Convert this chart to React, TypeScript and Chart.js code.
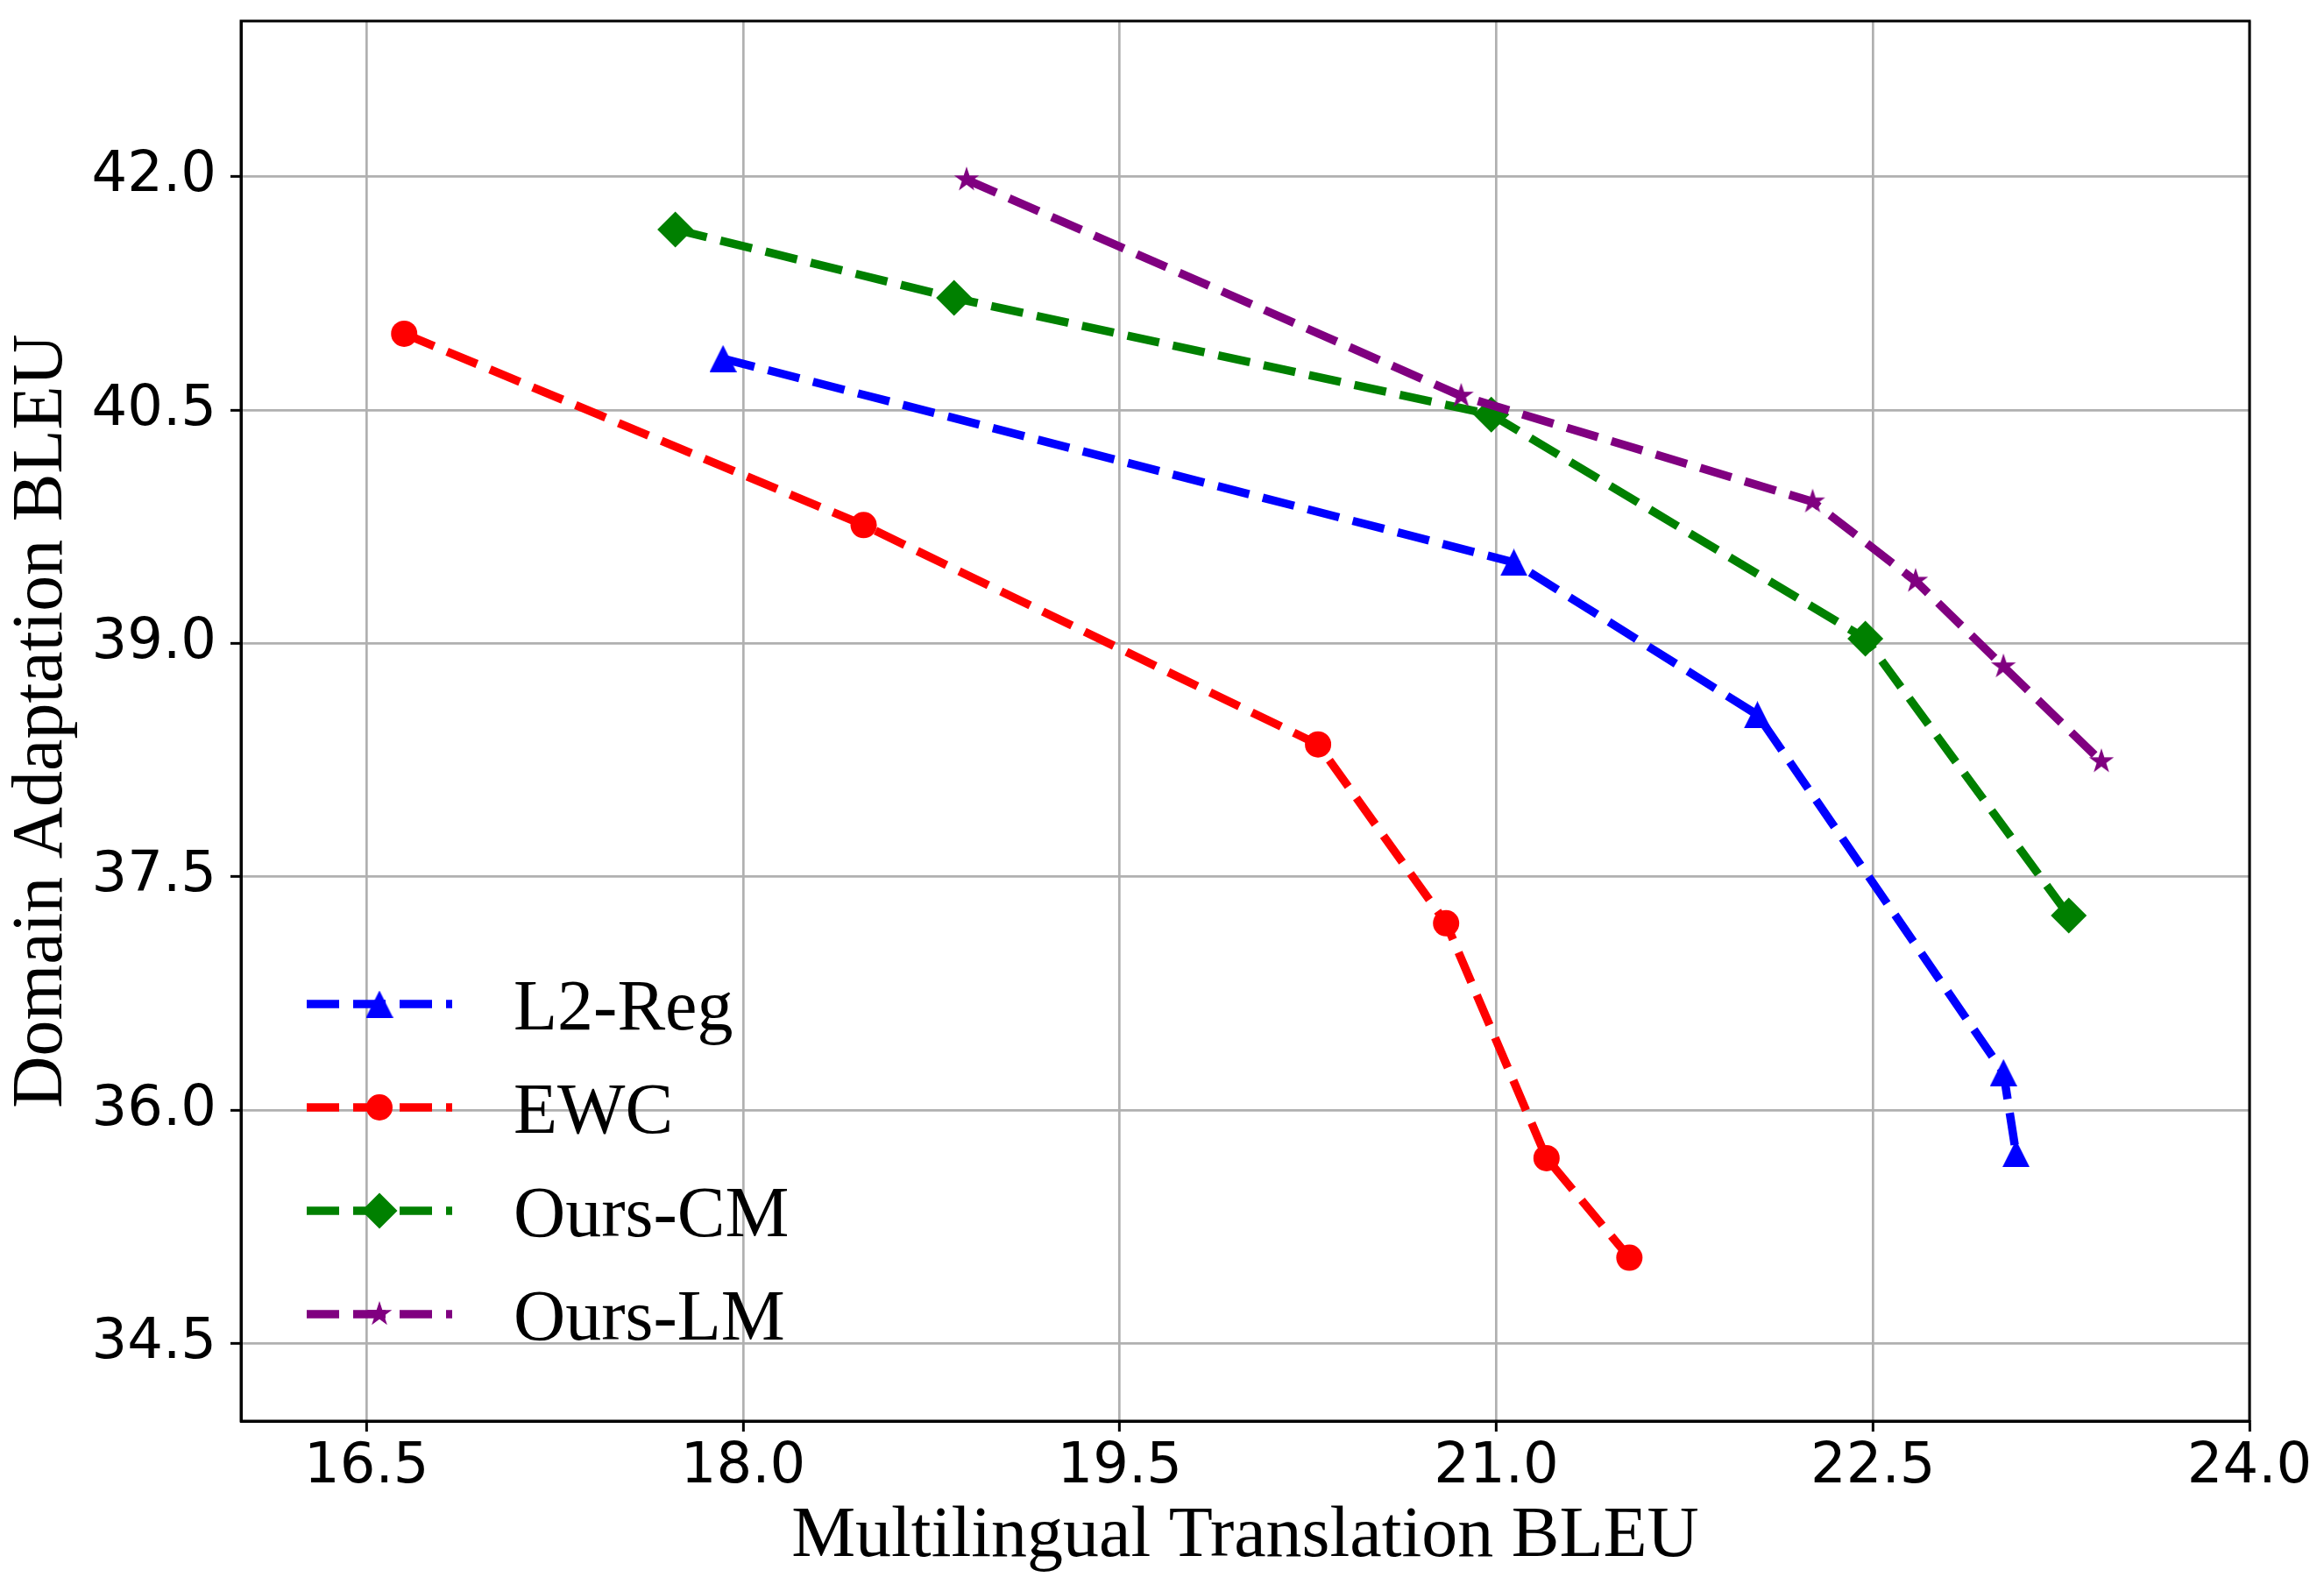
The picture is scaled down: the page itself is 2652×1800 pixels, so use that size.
import { useEffect, useRef } from "react"
import { Chart, registerables } from "chart.js"
import { drawPoint } from "chart.js/helpers"

Chart.register(...registerables)

// Tick values on both axes
const xTicks = [16.5, 18.0, 19.5, 21.0, 22.5, 24.0]
const yTicks = [34.5, 36.0, 37.5, 39.0, 40.5, 42.0]

// Series (x = multilingual BLEU, y = domain BLEU)
const seriesNames = ["L2-Reg", "EWC", "Ours-CM", "Ours-LM"]
const l2RegX = [17.92, 21.07, 22.04, 23.02, 23.07]
const l2RegY = [40.83, 39.52, 38.54, 36.24, 35.72]
const ewcX = [16.65, 18.48, 20.29, 20.8, 21.2, 21.53]
const ewcY = [40.99, 39.76, 38.35, 37.2, 35.69, 35.05]
const oursCmX = [17.73, 18.84, 20.98, 22.47, 23.28]
const oursCmY = [41.66, 41.22, 40.47, 39.03, 37.25]
const oursLmX = [18.89, 20.86, 22.26, 22.67, 23.02, 23.41]
const oursLmY = [41.98, 40.59, 39.91, 39.4, 38.85, 38.24]

const colors = ["#0000ff", "#ff0000", "#008000", "#800080"]
const DASH = [37, 16]
const LINE_W = 9.5
const SERIF = "'Liberation Serif', 'Times New Roman', serif"
const SANS = "'DejaVu Sans', sans-serif"

// matplotlib-like '^' marker (width == height)
function makeTriangle(color: string, size: number) {
  const c = document.createElement("canvas")
  c.width = size
  c.height = size
  const ctx = c.getContext("2d")!
  ctx.fillStyle = color
  ctx.beginPath()
  ctx.moveTo(size / 2, 0)
  ctx.lineTo(size, size)
  ctx.lineTo(0, size)
  ctx.closePath()
  ctx.fill()
  return c
}

// matplotlib-like '*' marker
function makeStar(color: string, r: number) {
  const size = Math.ceil(r * 2 + 2)
  const c = document.createElement("canvas")
  c.width = size
  c.height = size
  const ctx = c.getContext("2d")!
  ctx.fillStyle = color
  ctx.beginPath()
  for (let i = 0; i < 10; i++) {
    const a = -Math.PI / 2 + (i * Math.PI) / 5
    const rad = i % 2 === 0 ? r : r * 0.382
    const px = size / 2 + Math.cos(a) * rad
    const py = size / 2 + Math.sin(a) * rad
    if (i === 0) ctx.moveTo(px, py)
    else ctx.lineTo(px, py)
  }
  ctx.closePath()
  ctx.fill()
  return c
}

const toPoints = (xs: number[], ys: number[]) => xs.map((x, i) => ({ x, y: ys[i] }))

export default function App() {
  const chartRef = useRef<HTMLCanvasElement>(null)
  const chartInstance = useRef<Chart | null>(null)

  useEffect(() => {
    document.body.style.margin = "0"
    if (!chartRef.current) return
    if (chartInstance.current) chartInstance.current.destroy()

    const styles: any[] = [
      makeTriangle(colors[0], 31),
      "circle",
      "rectRot",
      makeStar(colors[3], 15),
    ]
    const radii = [16, 15, 20.5, 15]
    const xs = [l2RegX, ewcX, oursCmX, oursLmX]
    const ys = [l2RegY, ewcY, oursCmY, oursLmY]

    // box around the plot + legend inside lower-left
    const framePlugin = {
      id: "frameAndLegend",
      afterDraw(chart: any) {
        const { ctx, chartArea } = chart
        ctx.save()
        ctx.strokeStyle = "#000"
        ctx.lineWidth = 3
        ctx.strokeRect(chartArea.left, chartArea.top, chartArea.right - chartArea.left, chartArea.bottom - chartArea.top)

        const x0 = chartArea.left + 75
        const x1 = chartArea.left + 241
        const mx = (x0 + x1) / 2
        seriesNames.forEach((name, i) => {
          const y = chartArea.bottom - 476 + i * 118
          ctx.strokeStyle = colors[i]
          ctx.lineWidth = LINE_W
          ctx.lineCap = "butt"
          ctx.setLineDash(DASH)
          ctx.beginPath()
          ctx.moveTo(x0, y)
          ctx.lineTo(x1, y)
          ctx.stroke()
          ctx.setLineDash([])
          ctx.fillStyle = colors[i]
          drawPoint(ctx, { pointStyle: styles[i], radius: radii[i], rotation: 0, borderWidth: 0 } as any, mx, y)
          ctx.fillStyle = "#000"
          ctx.font = `82px ${SERIF}`
          ctx.textAlign = "left"
          ctx.textBaseline = "alphabetic"
          ctx.fillText(name, chartArea.left + 311, y + 29)
        })
        ctx.restore()
      },
    }

    chartInstance.current = new Chart(chartRef.current, {
      type: "scatter",
      data: {
        datasets: seriesNames.map((name, i) => ({
          label: name,
          data: toPoints(xs[i], ys[i]),
          showLine: true,
          borderColor: colors[i],
          backgroundColor: colors[i],
          borderWidth: LINE_W,
          borderDash: DASH,
          borderCapStyle: "butt",
          tension: 0,
          pointStyle: styles[i],
          pointRadius: radii[i],
          pointBackgroundColor: colors[i],
          pointBorderWidth: 0,
          order: 4 - i,
        })),
      },
      options: {
        responsive: false,
        animation: false,
        devicePixelRatio: 1,
        layout: { padding: { top: 24, right: 85, left: 0, bottom: 0 } },
        plugins: {
          legend: { display: false },
          tooltip: { enabled: false },
        },
        scales: {
          x: {
            type: "linear",
            min: 16,
            max: 24,
            afterBuildTicks: (scale: any) => {
              scale.ticks = xTicks.map((v) => ({ value: v }))
            },
            afterFit: (scale: any) => {
              scale.height = 178
              scale.paddingLeft = 0
              scale.paddingRight = 0
            },
            ticks: {
              color: "#000",
              font: { family: SANS, size: 64, lineHeight: 1.2 },
              padding: 3,
              maxRotation: 0,
              autoSkip: false,
              callback: (v: any) => Number(v).toFixed(1),
            },
            grid: { color: "#b0b0b0", lineWidth: 2.7, tickColor: "#000", tickWidth: 3, tickLength: 12 },
            border: { color: "#000", width: 3 },
            title: {
              display: true,
              text: "Multilingual Translation BLEU",
              color: "#000",
              font: { family: SERIF, size: 82, lineHeight: 1 },
              padding: { top: 0, bottom: 5 },
            },
          },
          y: {
            type: "linear",
            min: 34,
            max: 43,
            afterBuildTicks: (scale: any) => {
              scale.ticks = yTicks.map((v) => ({ value: v }))
            },
            afterFit: (scale: any) => {
              scale.width = 275
              scale.paddingTop = 0
              scale.paddingBottom = 0
            },
            ticks: {
              color: "#000",
              font: { family: SANS, size: 64 },
              padding: 16,
              autoSkip: false,
              callback: (v: any) => Number(v).toFixed(1),
            },
            grid: { color: "#b0b0b0", lineWidth: 2.7, tickColor: "#000", tickWidth: 3, tickLength: 12 },
            border: { color: "#000", width: 3 },
            title: {
              display: true,
              text: "Domain Adaptation BLEU",
              color: "#000",
              font: { family: SERIF, size: 82, lineHeight: 1 },
              padding: { top: 7, bottom: 0 },
            },
          },
        },
      },
      plugins: [framePlugin],
    } as any)

    return () => {
      if (chartInstance.current) {
        chartInstance.current.destroy()
        chartInstance.current = null
      }
    }
  }, [])

  return <canvas ref={chartRef} width={2652} height={1800} style={{ display: "block" }} />
}
